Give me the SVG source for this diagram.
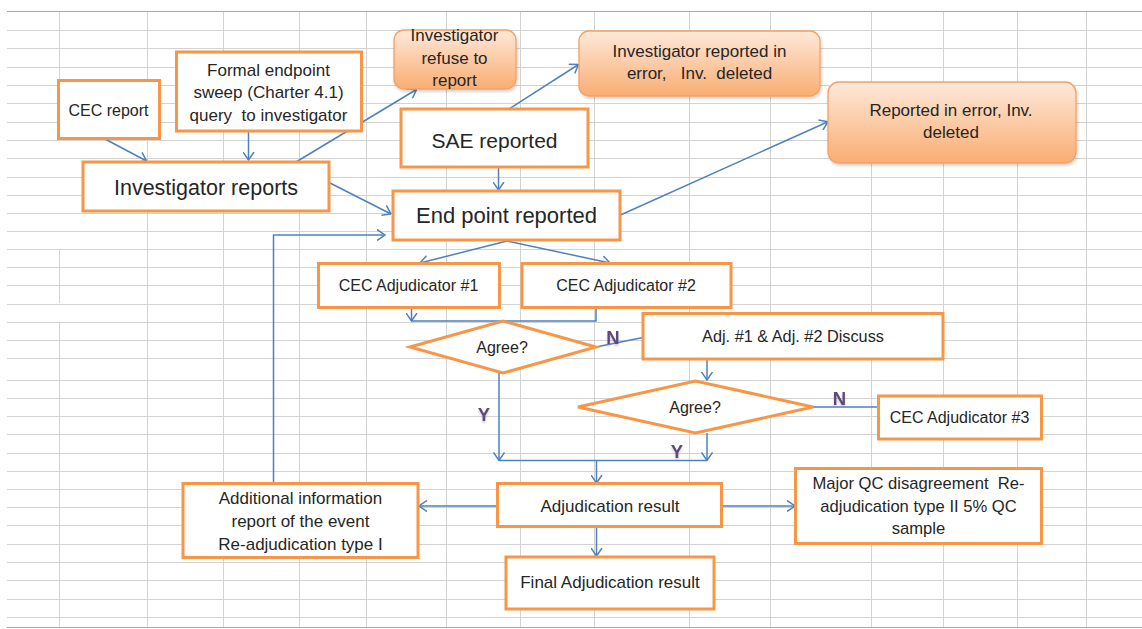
<svg xmlns="http://www.w3.org/2000/svg" width="1142" height="629" viewBox="0 0 1142 629">
<style>
.grid{stroke:#d3d3d3;stroke-width:1;fill:none}
.edge{stroke:#a8a8a8;stroke-width:1.2;fill:none}
.box{fill:#ffffff;stroke:#f79646;stroke-width:3}
.soft{fill:url(#peach);stroke:#f4a162;stroke-width:1.3}
.t{font-family:"Liberation Sans",Arial,sans-serif;fill:#262626;text-anchor:middle}
.c{stroke:#4f81bd;stroke-width:1.5;fill:none}
.a{marker-end:url(#arr)}
.lab{font-family:"Liberation Sans",Arial,sans-serif;font-weight:bold;font-size:18.5px;fill:#5f497a;text-anchor:middle;filter:url(#sh)}
</style>
<defs>
<linearGradient id="peach" x1="0" y1="0" x2="0" y2="1">
<stop offset="0" stop-color="#fee9da"/>
<stop offset="1" stop-color="#f9ad72"/>
</linearGradient>
<marker id="arr" viewBox="0 0 9 12" refX="8.5" refY="6" markerWidth="9" markerHeight="12" markerUnits="userSpaceOnUse" orient="auto">
<path d="M0.5,0.5 L8.5,6 L0.5,11.5" fill="none" stroke="#4f81bd" stroke-width="1.5"/>
</marker>
<filter id="sh" x="-50%" y="-50%" width="200%" height="200%">
<feDropShadow dx="0" dy="2" stdDeviation="1" flood-color="#8c8ca0" flood-opacity="0.45"/>
</filter>
<filter id="bs" x="-10%" y="-10%" width="120%" height="130%">
<feDropShadow dx="1" dy="2" stdDeviation="1.5" flood-color="#000" flood-opacity="0.18"/>
</filter>
</defs>
<rect x="0" y="0" width="1142" height="629" fill="#ffffff"/>
<g id="grid">
<path class="grid" d="M7,30.5H1142 M7,48.5H1142 M7,67.5H1142 M7,85.5H1142 M7,103.5H1142 M7,122.5H1142 M7,140.5H1142 M7,158.5H1142 M7,177.5H1142 M7,195.5H1142 M7,213.5H1142 M7,231.5H1142 M7,249.5H1142 M7,267.5H1142 M7,285.5H1142 M7,304.5H1142 M7,322.5H1142 M7,340.5H1142 M7,358.5H1142 M7,380.5H1142 M7,398.5H1142 M7,416.5H1142 M7,434.5H1142 M7,453.5H1142 M7,471.5H1142 M7,489.5H1142 M7,507.5H1142 M7,525.5H1142 M7,544.5H1142 M7,562.5H1142 M7,580.5H1142 M7,599.5H1142 M7,617.5H1142"/>
<path class="grid" d="M59.5,11V80 M59.5,249V303 M59.5,322V627 M147.5,11V627 M223.5,11V627 M299.5,11V627 M366.5,11V627 M446.5,11V627 M520.5,11V627 M594.5,11V627 M689.5,11V627 M770.5,11V627 M871.5,11V627 M943.5,11V627 M1017.5,11V627 M1086.5,11V627"/>
<path class="edge" d="M7,11.5H1142 M7,627.5H1142"/>
</g>
<g id="connectors">
<path class="c a" d="M105,139 L146.5,161"/>
<path class="c a" d="M248.5,131 V160"/>
<path class="c a" d="M296,162 L416.5,89.5"/>
<path class="c a" d="M330,183 L391,214"/>
<path class="c a" d="M507.5,110 L578.5,64.5"/>
<path class="c a" d="M498.5,167 V190"/>
<path class="c a" d="M620.5,215 L828,121.7"/>
<path class="c a" d="M507,241 L420,263"/>
<path class="c a" d="M507,241 L610,263"/>
<path class="c a" d="M411.5,308 V321"/>
<path class="c" d="M596,308 V321 H411.5"/>
<path class="c" d="M596,347 L643,337.5"/>
<path class="c a" d="M707,359 V380"/>
<path class="c" d="M813,407 H878"/>
<path class="c a" d="M499,370 V460.5"/>
<path class="c a" d="M707,433 V460.5"/>
<path class="c" d="M499,460.5 H707"/>
<path class="c a" d="M596.5,460.5 V483"/>
<path class="c a" d="M497,506 H419"/>
<path class="c a" d="M722,506 H795"/>
<path class="c a" d="M596.5,527 V556"/>
<path class="c a" d="M273.5,483 V235 H385"/>
</g>
<g id="n_cec_report">
<rect class="box" x="58.5" y="80.5" width="101" height="58"/>
<text class="t" x="108.5" y="115.5" font-size="16">CEC report</text>
</g>
<g id="n_formal_sweep">
<rect class="box" x="176.5" y="52" width="185" height="79"/>
<text class="t" x="268.5" y="75.5" font-size="17">Formal endpoint</text>
<text class="t" x="268.5" y="98" font-size="17">sweep (Charter 4.1)</text>
<text class="t" x="268.5" y="120.5" font-size="17" xml:space="preserve">query  to investigator</text>
</g>
<g id="n_investigator_reports">
<rect class="box" x="83" y="162" width="246" height="49"/>
<text class="t" x="206" y="195" font-size="21.5">Investigator reports</text>
</g>
<g id="n_refuse">
<rect class="soft" x="394" y="30" width="122" height="59" rx="10" filter="url(#bs)"/>
<text class="t" x="454.5" y="40.5" font-size="17">Investigator</text>
<text class="t" x="454.5" y="63.5" font-size="17">refuse to</text>
<text class="t" x="454.5" y="86" font-size="17">report</text>
</g>
<g id="n_inv_error">
<rect class="soft" x="579" y="31" width="241" height="65" rx="10" filter="url(#bs)"/>
<text class="t" x="699.5" y="57" font-size="17">Investigator reported in</text>
<text class="t" x="699.5" y="79" font-size="17" xml:space="preserve">error,   Inv.  deleted</text>
</g>
<g id="n_sae">
<rect class="box" x="401" y="109" width="187" height="58"/>
<text class="t" x="494.5" y="148" font-size="21">SAE reported</text>
</g>
<g id="n_endpoint">
<rect class="box" x="393" y="191" width="227" height="49"/>
<text class="t" x="506.5" y="223" font-size="22">End point reported</text>
</g>
<g id="n_reported_error">
<rect class="soft" x="828" y="82" width="248" height="81" rx="11" filter="url(#bs)"/>
<text class="t" x="951" y="115.5" font-size="17">Reported in error, Inv.</text>
<text class="t" x="951" y="137.5" font-size="17">deleted</text>
</g>
<g id="n_adj1">
<rect class="box" x="318.5" y="263.5" width="181" height="44"/>
<text class="t" x="408.5" y="291" font-size="16">CEC Adjudicator #1</text>
</g>
<g id="n_adj2">
<rect class="box" x="522" y="263.5" width="209" height="44"/>
<text class="t" x="626" y="291" font-size="16">CEC Adjudicator #2</text>
</g>
<g id="n_agree1">
<polygon class="box" points="410,347 503,321 596,347 503,373"/>
<text class="t" x="502" y="353" font-size="16">Agree?</text>
</g>
<g id="n_discuss">
<rect class="box" x="643" y="313.5" width="300" height="45.5"/>
<text class="t" x="793" y="342" font-size="16.3">Adj. #1 &amp; Adj. #2 Discuss</text>
</g>
<g id="n_agree2">
<polygon class="box" points="578,407 695.5,381 813,407 695.5,433"/>
<text class="t" x="695" y="412.5" font-size="16">Agree?</text>
</g>
<g id="n_adj3">
<rect class="box" x="878.5" y="396" width="163" height="43"/>
<text class="t" x="959.5" y="422.5" font-size="16">CEC Adjudicator #3</text>
</g>
<g id="n_adj_result">
<rect class="box" x="497.5" y="483.5" width="224" height="43"/>
<text class="t" x="610" y="511.5" font-size="17">Adjudication result</text>
</g>
<g id="n_additional">
<rect class="box" x="183" y="483.5" width="235" height="74"/>
<text class="t" x="300.5" y="504" font-size="17">Additional information</text>
<text class="t" x="300.5" y="527" font-size="17">report of the event</text>
<text class="t" x="300.5" y="549.5" font-size="17">Re-adjudication type I</text>
</g>
<g id="n_major_qc">
<rect class="box" x="795.5" y="468.5" width="246" height="75"/>
<text class="t" x="918.5" y="488.5" font-size="16.6" xml:space="preserve">Major QC disagreement  Re-</text>
<text class="t" x="918.5" y="511.5" font-size="16.6">adjudication type II 5% QC</text>
<text class="t" x="918.5" y="534" font-size="16.6">sample</text>
</g>
<g id="n_final">
<rect class="box" x="506" y="557" width="208" height="52"/>
<text class="t" x="610" y="587.5" font-size="17">Final Adjudication result</text>
</g>
<g id="labels">
<text class="lab" x="613" y="343.5">N</text>
<text class="lab" x="839.5" y="405">N</text>
<text class="lab" x="484" y="420.5">Y</text>
<text class="lab" x="677" y="457.5">Y</text>
</g>
</svg>
